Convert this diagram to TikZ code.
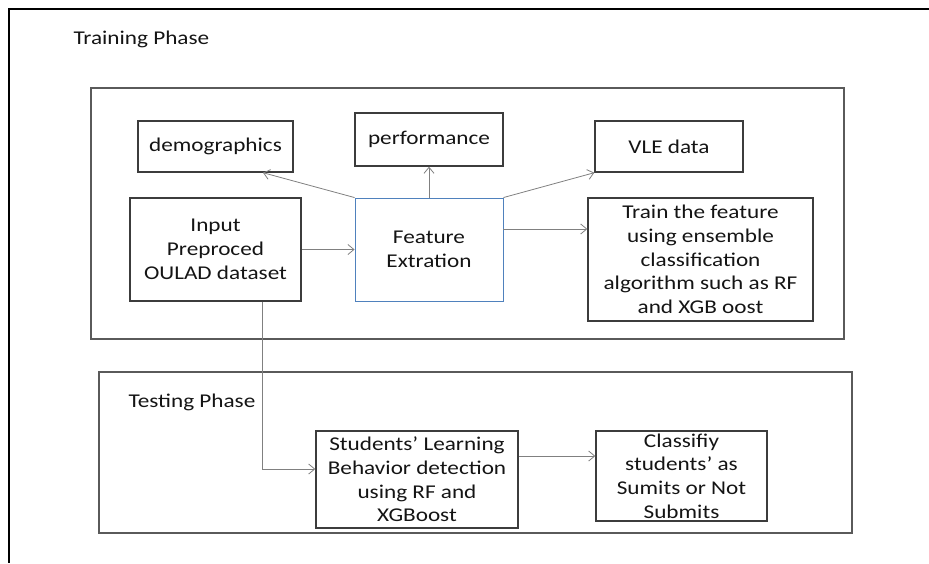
\documentclass[tikz,border=0pt]{standalone}
\usepackage{fontspec}
\setmainfont[FakeStretch=1.19]{Carlito}
\usetikzlibrary{arrows.meta,calc}

\definecolor{boxline}{HTML}{3C3C3C}
\definecolor{phaseline}{HTML}{5A5A5A}
\definecolor{arrowline}{HTML}{808080}
\definecolor{blueline}{HTML}{4F81BD}
\definecolor{ink}{HTML}{141414}

\tikzset{
  txt/.style={font=\fontsize{19.5pt}{23.7pt}\selectfont, text=ink},
  stepbox/.style={txt, draw=boxline, line width=1.4pt, inner sep=0pt,
    align=center, minimum width=#1},
  featbox/.style={txt, draw=blueline, line width=0.9pt, inner sep=0pt,
    align=center},
  phasebox/.style={draw=phaseline, line width=1.6pt},
  conn/.style={draw=arrowline, line width=0.8pt,
    -{Straight Barb[length=6pt,width=10pt]}},
  frame/.style={draw=black, line width=2.2pt}
}

\begin{document}
\begin{tikzpicture}[x=1pt,y=-1pt]
  \useasboundingbox (0,0) rectangle (929,563);

  % outer frame (open to the right and bottom)
  \draw[frame] (929,9) -- (9,9) -- (9,563);

  % phase containers
  \draw[phasebox] (91,88) rectangle (844,339);
  \draw[phasebox] (99,372) rectangle (852,533);

  \node[txt, anchor=west] (trainlbl) at (70,39) {Training Phase};
  \node[txt, anchor=west] (testlbl) at (125,402) {Testing Phase};

  % training phase boxes
  \node[stepbox=155pt, minimum height=51pt] (demo) at (215.5,146.5) {demographics};
  \node[stepbox=148pt, minimum height=53pt] (perf) at (429,139.5) {performance};
  \node[stepbox=148pt, minimum height=51pt] (vle) at (669,146.5) {VLE data};
  \node[stepbox=171pt, minimum height=103pt] (inp) at (215.5,249.5)
    {Input\\Preproced\\OULAD dataset};
  \node[featbox, minimum width=148pt, minimum height=103pt] (fe) at (429,249.5)
    {Feature\\Extration};
  \node[stepbox=225pt, minimum height=123pt] (train) at (700.5,259.5)
    {Train the feature\\using ensemble\\classification\\algorithm such as RF\\and XGB oost};

  % testing phase boxes
  \node[stepbox=202pt, minimum height=97pt] (stud) at (417,479.5)
    {Students’ Learning\\Behavior detection\\using RF and\\XGBoost};
  \node[stepbox=171pt, minimum height=90pt] (cls) at (681.5,476)
    {Classifiy\\students’ as\\Sumits or Not\\Submits};

  % connectors
  \draw[conn] (fe.north west) -- ([xshift=47.5pt]demo.south);
  \draw[conn] (fe.north) -- (perf.south);
  \draw[conn] (fe.north east) -- (vle.south west);
  \draw[conn] (inp.east) -- (fe.west);
  \draw[conn] ([yshift=20.5pt]fe.east) -- ([yshift=20.5pt]fe.east -| train.west);
  \draw[conn] ([xshift=46.5pt]inp.south) |- ([yshift=10.5pt]stud.west);
  \draw[conn] ([yshift=23.5pt]stud.east) -- ([yshift=23.5pt]stud.east -| cls.west);
\end{tikzpicture}
\end{document}
